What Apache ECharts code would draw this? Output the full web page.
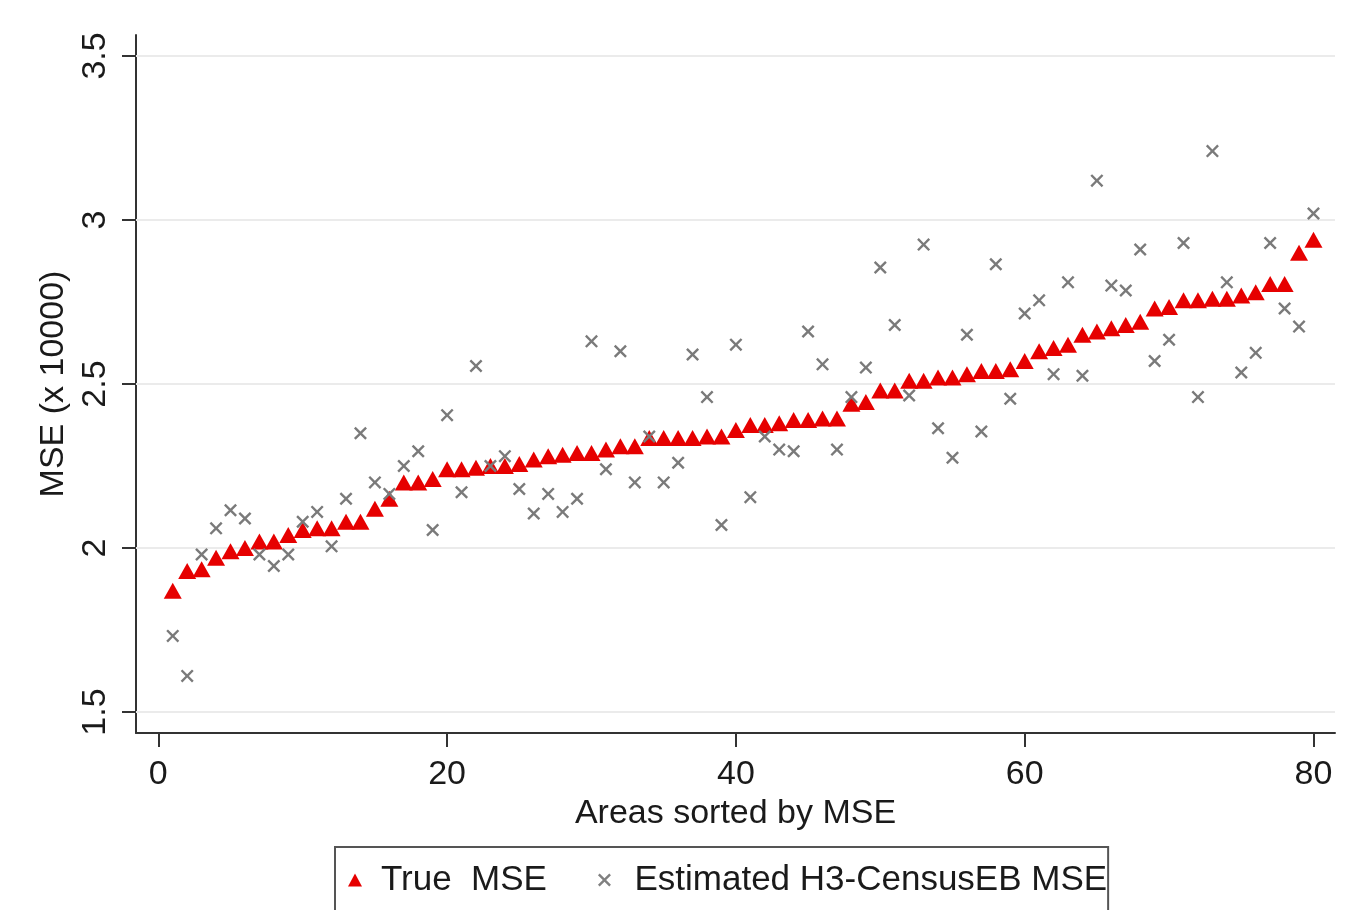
<!DOCTYPE html>
<html><head><meta charset="utf-8">
<script src="https://cdn.jsdelivr.net/npm/echarts@6/dist/echarts.min.js"></script>
<style>html,body{margin:0;padding:0;background:#fff}#c{width:1370px;height:910px}</style>
</head><body><div id="c"></div>
<script>
const areas = [1,2,3,4,5,6,7,8,9,10,11,12,13,14,15,16,17,18,19,20,21,22,23,24,25,26,27,28,29,30,31,32,33,34,35,36,37,38,39,40,41,42,43,44,45,46,47,48,49,50,51,52,53,54,55,56,57,58,59,60,61,62,63,64,65,66,67,68,69,70,71,72,73,74,75,76,77,78,79,80];
const trueMSE = [1.87,1.93,1.935,1.97,1.99,2.00,2.02,2.02,2.04,2.055,2.06,2.06,2.08,2.08,2.12,2.15,2.20,2.20,2.21,2.24,2.24,2.245,2.25,2.25,2.256,2.27,2.28,2.284,2.29,2.29,2.30,2.31,2.31,2.335,2.335,2.335,2.335,2.34,2.34,2.36,2.375,2.375,2.38,2.39,2.39,2.395,2.395,2.44,2.445,2.48,2.48,2.51,2.51,2.52,2.52,2.53,2.54,2.54,2.545,2.57,2.60,2.61,2.62,2.65,2.66,2.67,2.68,2.69,2.73,2.735,2.755,2.755,2.76,2.76,2.77,2.78,2.805,2.805,2.90,2.94];
const estMSE = [1.732,1.61,1.98,2.06,2.115,2.09,1.98,1.945,1.98,2.08,2.11,2.005,2.15,2.35,2.20,2.165,2.25,2.295,2.055,2.405,2.17,2.555,2.25,2.28,2.18,2.105,2.165,2.11,2.15,2.63,2.24,2.60,2.20,2.34,2.20,2.26,2.59,2.46,2.07,2.62,2.155,2.34,2.30,2.295,2.66,2.56,2.30,2.46,2.55,2.855,2.68,2.465,2.925,2.365,2.275,2.65,2.355,2.865,2.455,2.715,2.755,2.53,2.81,2.525,3.12,2.80,2.785,2.91,2.57,2.635,2.93,2.46,3.21,2.81,2.535,2.595,2.93,2.73,2.675,3.02];
const xTicks = [0,20,40,60,80];
const yTicks = [1.5,2,2.5,3,3.5];
const seriesNames = ['True  MSE','Estimated H3-CensusEB MSE'];

const crossPath = 'path://M0,1.3 L1.3,0 L5,3.7 L8.7,0 L10,1.3 L6.3,5 L10,8.7 L8.7,10 L5,6.3 L1.3,10 L0,8.7 L3.7,5 Z';
const FONT = 'Liberation Sans, Arial, sans-serif';

const chart = echarts.init(document.getElementById('c'), null, {renderer:'canvas'});
chart.setOption({
  animation:false,
  backgroundColor:'#ffffff',
  grid:{left:136,right:35,top:35,bottom:177,containLabel:false},
  xAxis:{
    type:'value', min:-1.545, max:81.49,
    name:'Areas sorted by MSE', nameLocation:'middle', nameGap:60,
    nameTextStyle:{fontFamily:FONT,fontSize:34,color:'#1a1a1a'},
    axisLine:{show:true,onZero:false,lineStyle:{color:'#333',width:2}},
    axisTick:{show:true,length:14,customValues:xTicks,lineStyle:{color:'#333',width:2}},
    axisLabel:{customValues:xTicks,fontFamily:FONT,fontSize:34,color:'#1a1a1a',margin:25},
    splitLine:{show:false}
  },
  yAxis:{
    type:'value', min:1.436, max:3.564,
    name:'MSE (x 10000)', nameLocation:'middle', nameRotate:90, nameGap:60,
    nameTextStyle:{fontFamily:FONT,fontSize:34,color:'#1a1a1a'},
    axisLine:{show:true,onZero:false,lineStyle:{color:'#333',width:2}},
    axisTick:{show:true,length:14,customValues:yTicks,lineStyle:{color:'#333',width:2}},
    axisLabel:{customValues:yTicks,rotate:90,fontFamily:FONT,fontSize:34,color:'#1a1a1a',margin:23},
    splitLine:{show:false}
  },
  legend:{
    left:335, top:847, orient:'horizontal',
    padding:[13,1,13,13], itemGap:51, itemWidth:14, itemHeight:13,
    borderColor:'#555', borderWidth:2, backgroundColor:'#fff',
    textStyle:{fontFamily:FONT,fontSize:35,color:'#1a1a1a',lineHeight:40},
    data:[
      {name:seriesNames[0],icon:'triangle',itemStyle:{color:'#e60000'},textStyle:{padding:[0,0,0,14]}},
      {name:seriesNames[1],icon:crossPath,itemStyle:{color:'#808080'},textStyle:{padding:[0,0,0,18]}}
    ]
  },
  series:[
    {
      type:'scatter', name:'gridlines', data:[], silent:true, z:1,
      markLine:{silent:true,symbol:'none',z:1,label:{show:false},
        lineStyle:{color:'#ebebeb',width:2,type:'solid'},
        data:yTicks.map(v=>({yAxis:v}))}
    },
    {
      type:'scatter', name:seriesNames[0], z:3,
      symbol:'triangle', symbolSize:[18,16],
      itemStyle:{color:'#e60000',opacity:1},
      data:areas.map((a,i)=>[a,trueMSE[i]])
    },
    {
      type:'scatter', name:seriesNames[1], z:4,
      symbol:crossPath, symbolSize:13,
      itemStyle:{color:'#7a7a7a',opacity:1},
      data:areas.map((a,i)=>[a,estMSE[i]])
    }
  ]
});
</script></body></html>
